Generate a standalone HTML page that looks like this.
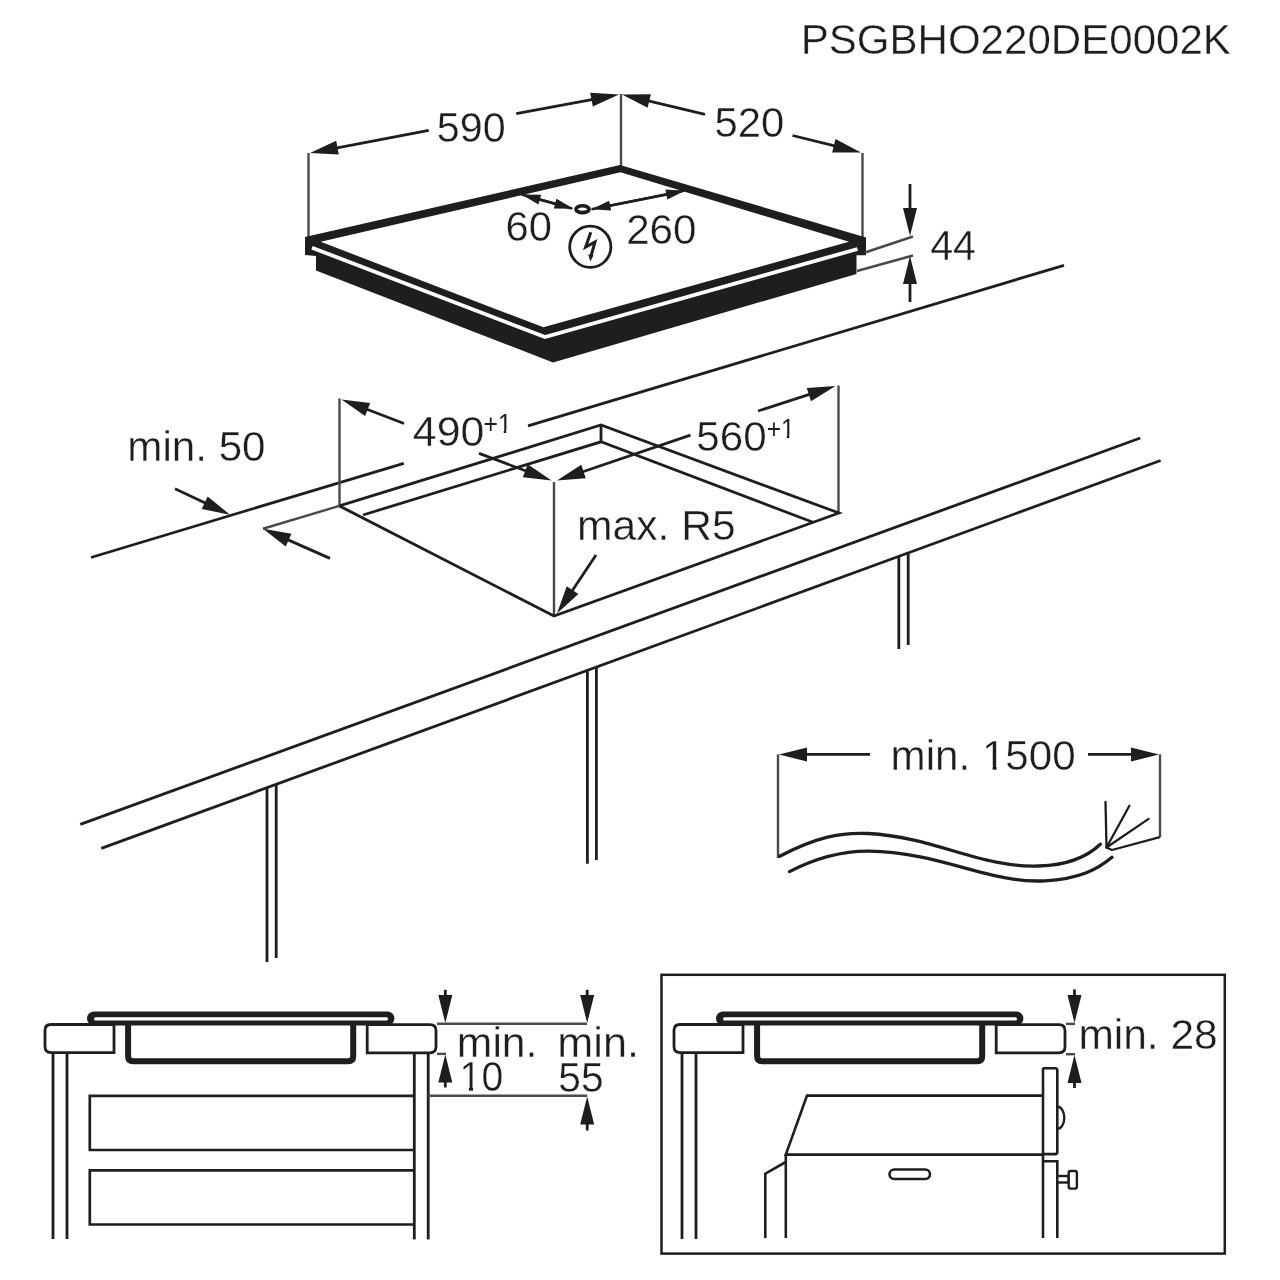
<!DOCTYPE html>
<html><head><meta charset="utf-8"><style>
html,body{margin:0;padding:0;background:#fff;}
svg{display:block;filter:blur(0.7px);}
text{font-family:"Liberation Sans",sans-serif;}
</style></head><body>
<svg width="1280" height="1280" viewBox="0 0 1280 1280">
<rect width="1280" height="1280" fill="#fff"/>
<text x="800.65" y="54.45" font-size="42.50" textLength="430.24" lengthAdjust="spacingAndGlyphs" fill="#1e1e1e" stroke="#fff" stroke-width="0.35">PSGBHO220DE0002K</text>
<line x1="308.5" y1="153" x2="308.5" y2="238" stroke="#4a4a4a" stroke-width="2.4" stroke-linecap="butt"/>
<line x1="621" y1="94" x2="621" y2="168" stroke="#4a4a4a" stroke-width="2.4" stroke-linecap="butt"/>
<line x1="862.5" y1="153" x2="862.5" y2="238" stroke="#4a4a4a" stroke-width="2.4" stroke-linecap="butt"/>
<polygon points="310,153 336.19,140.87 338.82,154.62" fill="#1e1e1e"/>
<line x1="428.75" y1="130.3" x2="334.56" y2="148.31" stroke="#1e1e1e" stroke-width="2.8" stroke-linecap="butt"/>
<polygon points="619,94.5 592.76,106.52 590.19,92.76" fill="#1e1e1e"/>
<line x1="516.25" y1="113.7" x2="594.43" y2="99.09" stroke="#1e1e1e" stroke-width="2.8" stroke-linecap="butt"/>
<text x="436.80" y="141.95" font-size="42.50" textLength="68.79" lengthAdjust="spacingAndGlyphs" fill="#1e1e1e" stroke="#fff" stroke-width="0.35">590</text>
<polygon points="622,94.5 650.86,94.19 647.61,107.81" fill="#1e1e1e"/>
<line x1="705" y1="114.3" x2="646.32" y2="100.3" stroke="#1e1e1e" stroke-width="2.8" stroke-linecap="butt"/>
<polygon points="861,152.5 832.14,152.55 835.51,138.96" fill="#1e1e1e"/>
<line x1="792.5" y1="135.5" x2="836.74" y2="146.48" stroke="#1e1e1e" stroke-width="2.8" stroke-linecap="butt"/>
<text x="714.50" y="136.85" font-size="42.50" textLength="69.84" lengthAdjust="spacingAndGlyphs" fill="#1e1e1e" stroke="#fff" stroke-width="0.35">520</text>
<polygon points="305,237 620,165 866,237.5 866,255.3 856.5,255.3 856.5,274 553,362.5 316,270.5 316,256 305,255" fill="#1e1e1e"/>
<polygon points="320.7,241.8 620.5,172.2 849,241.7 543.4,327.3" fill="#fff"/>
<polyline points="312,247.7 545,337 857.5,249" fill="none" stroke="#fff" stroke-width="3.8" stroke-linejoin="miter" stroke-linecap="butt"/>
<polygon points="521.5,194.5 541.15,194.76 538.47,204.39" fill="#1e1e1e"/>
<line x1="572" y1="208.5" x2="536.92" y2="198.77" stroke="#1e1e1e" stroke-width="2.5" stroke-linecap="butt"/>
<polygon points="573.5,208.7 553.85,208.52 556.49,198.87" fill="#1e1e1e"/>
<line x1="521.5" y1="194.5" x2="558.07" y2="204.49" stroke="#1e1e1e" stroke-width="2.5" stroke-linecap="butt"/>
<polygon points="591.5,209.3 609.15,200.67 611.11,210.48" fill="#1e1e1e"/>
<line x1="684" y1="190.8" x2="607.19" y2="206.16" stroke="#1e1e1e" stroke-width="2.5" stroke-linecap="butt"/>
<polygon points="685,190.8 667.33,199.39 665.39,189.58" fill="#1e1e1e"/>
<line x1="591.5" y1="209.3" x2="669.3" y2="193.91" stroke="#1e1e1e" stroke-width="2.5" stroke-linecap="butt"/>
<ellipse cx="582.5" cy="209.2" rx="6.6" ry="3.4" fill="#fff" stroke="#1e1e1e" stroke-width="3.6"/>
<text x="505.45" y="241.25" font-size="42.50" textLength="46.40" lengthAdjust="spacingAndGlyphs" fill="#1e1e1e" stroke="#fff" stroke-width="0.35">60</text>
<text x="626.15" y="244.00" font-size="42.50" textLength="70.38" lengthAdjust="spacingAndGlyphs" fill="#1e1e1e" stroke="#fff" stroke-width="0.35">260</text>
<circle cx="590.3" cy="246.8" r="20.6" fill="none" stroke="#1e1e1e" stroke-width="2.8"/>
<path d="M590.8,232.2 L585.6,247 L595,242 L591.3,255" fill="none" stroke="#1e1e1e" stroke-width="3" stroke-linejoin="miter" stroke-miterlimit="3"/>
<polygon points="588.2,254.2 593.6,255.3 590.3,261.6" fill="#1e1e1e"/>
<line x1="865" y1="252.5" x2="913" y2="236.5" stroke="#4a4a4a" stroke-width="2.4" stroke-linecap="butt"/>
<line x1="857" y1="271" x2="913" y2="255.5" stroke="#4a4a4a" stroke-width="2.4" stroke-linecap="butt"/>
<polygon points="910,236 903,208 917,208" fill="#1e1e1e"/>
<line x1="910" y1="184" x2="910" y2="211" stroke="#1e1e1e" stroke-width="2.8" stroke-linecap="butt"/>
<polygon points="910,256 917,284 903,284" fill="#1e1e1e"/>
<line x1="910" y1="302" x2="910" y2="281" stroke="#1e1e1e" stroke-width="2.8" stroke-linecap="butt"/>
<text x="930.20" y="259.70" font-size="42.50" textLength="45.88" lengthAdjust="spacingAndGlyphs" fill="#1e1e1e" stroke="#fff" stroke-width="0.35">44</text>
<line x1="91" y1="557.5" x2="403.8" y2="463.3" stroke="#1e1e1e" stroke-width="2.8" stroke-linecap="butt"/>
<line x1="528" y1="425.8" x2="1064" y2="265.3" stroke="#1e1e1e" stroke-width="2.8" stroke-linecap="butt"/>
<line x1="80.3" y1="824.4" x2="1140.3" y2="438" stroke="#1e1e1e" stroke-width="2.8" stroke-linecap="butt"/>
<line x1="101.3" y1="848.4" x2="1160.6" y2="460.5" stroke="#1e1e1e" stroke-width="2.8" stroke-linecap="butt"/>
<line x1="267" y1="787.72" x2="267" y2="962" stroke="#1e1e1e" stroke-width="2.8" stroke-linecap="butt"/>
<line x1="276.2" y1="784.35" x2="276.2" y2="958" stroke="#1e1e1e" stroke-width="2.8" stroke-linecap="butt"/>
<line x1="587.4" y1="670.39" x2="587.4" y2="863.7" stroke="#1e1e1e" stroke-width="2.8" stroke-linecap="butt"/>
<line x1="596.4" y1="667.09" x2="596.4" y2="860" stroke="#1e1e1e" stroke-width="2.8" stroke-linecap="butt"/>
<line x1="898.8" y1="556.36" x2="898.8" y2="649" stroke="#1e1e1e" stroke-width="2.8" stroke-linecap="butt"/>
<line x1="908.2" y1="552.91" x2="908.2" y2="645" stroke="#1e1e1e" stroke-width="2.8" stroke-linecap="butt"/>
<line x1="339.5" y1="398.5" x2="339.5" y2="506" stroke="#4a4a4a" stroke-width="2.4" stroke-linecap="butt"/>
<line x1="838.5" y1="385.5" x2="838.5" y2="513" stroke="#4a4a4a" stroke-width="2.4" stroke-linecap="butt"/>
<line x1="554" y1="482" x2="554" y2="616" stroke="#4a4a4a" stroke-width="2.4" stroke-linecap="butt"/>
<line x1="601" y1="425" x2="601" y2="442" stroke="#1e1e1e" stroke-width="2.8" stroke-linecap="butt"/>
<polyline points="339.4,505.9 601,425 838.9,513 554,616 339.4,505.9" fill="none" stroke="#1e1e1e" stroke-width="2.8" stroke-linejoin="miter" stroke-linecap="butt"/>
<polyline points="363,515 601,441.8 813,522.3" fill="none" stroke="#1e1e1e" stroke-width="2.8" stroke-linejoin="miter" stroke-linecap="butt"/>
<line x1="263" y1="528.75" x2="339.4" y2="505.9" stroke="#4a4a4a" stroke-width="2.4" stroke-linecap="butt"/>
<polygon points="341.5,399.5 370.15,403 365.13,416.07" fill="#1e1e1e"/>
<line x1="404" y1="423.5" x2="364.84" y2="408.46" stroke="#1e1e1e" stroke-width="2.8" stroke-linecap="butt"/>
<polygon points="551.5,480.5 522.82,477.25 527.72,464.14" fill="#1e1e1e"/>
<line x1="479" y1="453.4" x2="528.08" y2="471.75" stroke="#1e1e1e" stroke-width="2.8" stroke-linecap="butt"/>
<text x="412.85" y="446.45" font-size="42.50" textLength="71.39" lengthAdjust="spacingAndGlyphs" fill="#1e1e1e" stroke="#fff" stroke-width="0.35">490</text>
<text x="483.50" y="432.80" font-size="28.40" textLength="28.19" lengthAdjust="spacingAndGlyphs" fill="#1e1e1e">+1</text>
<polygon points="835.5,386 811,401.26 806.7,387.93" fill="#1e1e1e"/>
<line x1="758" y1="411" x2="811.71" y2="393.68" stroke="#1e1e1e" stroke-width="2.8" stroke-linecap="butt"/>
<polygon points="557,480.5 581.27,464.87 585.76,478.13" fill="#1e1e1e"/>
<line x1="690.5" y1="435.2" x2="580.67" y2="472.47" stroke="#1e1e1e" stroke-width="2.8" stroke-linecap="butt"/>
<text x="696.35" y="451.20" font-size="42.50" textLength="70.37" lengthAdjust="spacingAndGlyphs" fill="#1e1e1e" stroke="#fff" stroke-width="0.35">560</text>
<text x="766.70" y="437.80" font-size="28.40" textLength="28.09" lengthAdjust="spacingAndGlyphs" fill="#1e1e1e">+1</text>
<text x="127.30" y="461.35" font-size="42.50" textLength="138.28" lengthAdjust="spacingAndGlyphs" fill="#1e1e1e" stroke="#fff" stroke-width="0.35">min. 50</text>
<polygon points="230,514.7 201.69,509.08 207.66,496.42" fill="#1e1e1e"/>
<line x1="175" y1="488.75" x2="207.39" y2="504.03" stroke="#1e1e1e" stroke-width="2.8" stroke-linecap="butt"/>
<polygon points="263,528.75 291.44,533.68 285.77,546.48" fill="#1e1e1e"/>
<line x1="330" y1="558.4" x2="285.86" y2="538.87" stroke="#1e1e1e" stroke-width="2.8" stroke-linecap="butt"/>
<text x="577.10" y="540.25" font-size="42.50" textLength="158.63" lengthAdjust="spacingAndGlyphs" fill="#1e1e1e" stroke="#fff" stroke-width="0.35">max. R5</text>
<polygon points="557,613.5 566.71,586.32 578.36,594.09" fill="#1e1e1e"/>
<line x1="596" y1="555" x2="570.87" y2="592.7" stroke="#1e1e1e" stroke-width="2.8" stroke-linecap="butt"/>
<line x1="778" y1="754.4" x2="778" y2="858" stroke="#4a4a4a" stroke-width="2.4" stroke-linecap="butt"/>
<line x1="1160" y1="754.4" x2="1160" y2="837.5" stroke="#4a4a4a" stroke-width="2.4" stroke-linecap="butt"/>
<polygon points="779,754.4 807,747.4 807,761.4" fill="#1e1e1e"/>
<line x1="870" y1="754.4" x2="804" y2="754.4" stroke="#1e1e1e" stroke-width="2.8" stroke-linecap="butt"/>
<polygon points="1159,754.4 1131,761.4 1131,747.4" fill="#1e1e1e"/>
<line x1="1088" y1="754.4" x2="1134" y2="754.4" stroke="#1e1e1e" stroke-width="2.8" stroke-linecap="butt"/>
<text x="890.60" y="769.85" font-size="42.50" textLength="185.12" lengthAdjust="spacingAndGlyphs" fill="#1e1e1e" stroke="#fff" stroke-width="0.35">min. 1500</text>
<path d="M779.7,856.2 C815,838 840,832 868,833.5 C935,837 980,868 1039,866 C1070,865 1088,856 1100.3,844.2" fill="none" stroke="#1e1e1e" stroke-width="3.3" stroke-linecap="round"/>
<path d="M789.5,871.6 C820,856 845,851 869,851.2 C940,852 990,884 1045,880.8 C1080,879 1098,869 1112,857.3" fill="none" stroke="#1e1e1e" stroke-width="3.3" stroke-linecap="round"/>
<polyline points="1105.5,802 1106.5,847.5 1129.4,805.8" fill="none" stroke="#1e1e1e" stroke-width="2.3" stroke-linejoin="round" stroke-linecap="round"/>
<polyline points="1106.5,847.5 1148.6,818.9" fill="none" stroke="#1e1e1e" stroke-width="2.3" stroke-linejoin="miter" stroke-linecap="round"/>
<polyline points="1106.5,847.5 1112,850 1159.8,837.2" fill="none" stroke="#1e1e1e" stroke-width="2.3" stroke-linejoin="round" stroke-linecap="butt"/>
<rect x="87" y="1011.5" width="307.4" height="14" rx="7" fill="#1e1e1e"/>
<rect x="94" y="1017.3" width="294" height="3.2" rx="1.6" fill="#fff"/>
<path d="M128.1,1024 L128.1,1056.2 Q128.1,1061.2 133.1,1061.2 L348.2,1061.2 Q353.2,1061.2 353.2,1056.2 L353.2,1024" fill="none" stroke="#1e1e1e" stroke-width="6"/>
<path d="M114,1024.5 L51,1024.5 Q45,1024.5 45,1030.5 L45,1046.6 Q45,1052.6 51,1052.6 L114,1052.6 Z" fill="#fff" stroke="#1e1e1e" stroke-width="2.8"/>
<path d="M367.2,1024.7 L430,1024.7 Q436,1024.7 436,1030.7 L436,1046.8 Q436,1052.8 430,1052.8 L367.2,1052.8 Z" fill="#fff" stroke="#1e1e1e" stroke-width="2.8"/>
<line x1="53" y1="1054" x2="53" y2="1239" stroke="#1e1e1e" stroke-width="2.8" stroke-linecap="butt"/>
<line x1="67" y1="1054" x2="67" y2="1239" stroke="#1e1e1e" stroke-width="2.8" stroke-linecap="butt"/>
<line x1="414.3" y1="1054" x2="414.3" y2="1239.4" stroke="#1e1e1e" stroke-width="2.8" stroke-linecap="butt"/>
<line x1="428.2" y1="1054" x2="428.2" y2="1239.4" stroke="#1e1e1e" stroke-width="2.8" stroke-linecap="butt"/>
<polyline points="414.3,1095.8 89.8,1095.8 89.8,1150 414.3,1150" fill="none" stroke="#1e1e1e" stroke-width="2.7" stroke-linejoin="miter" stroke-linecap="butt"/>
<polyline points="414.3,1170.4 89.8,1170.4 89.8,1224.5 414.3,1224.5" fill="none" stroke="#1e1e1e" stroke-width="2.7" stroke-linejoin="miter" stroke-linecap="butt"/>
<line x1="437" y1="1023.75" x2="587" y2="1023.75" stroke="#4a4a4a" stroke-width="2.4" stroke-linecap="butt"/>
<line x1="428" y1="1095.8" x2="587.2" y2="1095.8" stroke="#4a4a4a" stroke-width="2.4" stroke-linecap="butt"/>
<line x1="437" y1="1053.9" x2="446" y2="1053.9" stroke="#4a4a4a" stroke-width="2.4" stroke-linecap="butt"/>
<polygon points="445.3,1023 438.3,995 452.3,995" fill="#1e1e1e"/>
<line x1="445.3" y1="989.8" x2="445.3" y2="998" stroke="#1e1e1e" stroke-width="2.8" stroke-linecap="butt"/>
<polygon points="445.3,1054.5 452.3,1082.5 438.3,1082.5" fill="#1e1e1e"/>
<line x1="445.3" y1="1087.5" x2="445.3" y2="1079.5" stroke="#1e1e1e" stroke-width="2.8" stroke-linecap="butt"/>
<polygon points="587.2,1023 580.2,995 594.2,995" fill="#1e1e1e"/>
<line x1="587.2" y1="989.8" x2="587.2" y2="998" stroke="#1e1e1e" stroke-width="2.8" stroke-linecap="butt"/>
<polygon points="587.2,1096.5 594.2,1124.5 580.2,1124.5" fill="#1e1e1e"/>
<line x1="587.2" y1="1130.5" x2="587.2" y2="1121.5" stroke="#1e1e1e" stroke-width="2.8" stroke-linecap="butt"/>
<text x="456.85" y="1057.40" font-size="42.50" textLength="80.59" lengthAdjust="spacingAndGlyphs" fill="#1e1e1e" stroke="#fff" stroke-width="0.35">min.</text>
<text x="459.60" y="1091.25" font-size="42.50" textLength="43.63" lengthAdjust="spacingAndGlyphs" fill="#1e1e1e" stroke="#fff" stroke-width="0.35">10</text>
<text x="557.35" y="1057.40" font-size="42.50" textLength="81.67" lengthAdjust="spacingAndGlyphs" fill="#1e1e1e" stroke="#fff" stroke-width="0.35">min.</text>
<text x="558.35" y="1092.45" font-size="42.50" textLength="45.35" lengthAdjust="spacingAndGlyphs" fill="#1e1e1e" stroke="#fff" stroke-width="0.35">55</text>
<rect x="661.5" y="974.8" width="563.3" height="278.8" fill="none" stroke="#1e1e1e" stroke-width="2.5"/>
<rect x="716" y="1011.5" width="307.4" height="14" rx="7" fill="#1e1e1e"/>
<rect x="723" y="1017.3" width="294" height="3.2" rx="1.6" fill="#fff"/>
<path d="M757.1,1024 L757.1,1056.2 Q757.1,1061.2 762.1,1061.2 L977.2,1061.2 Q982.2,1061.2 982.2,1056.2 L982.2,1024" fill="none" stroke="#1e1e1e" stroke-width="6"/>
<path d="M743,1024.5 L680,1024.5 Q674,1024.5 674,1030.5 L674,1046.6 Q674,1052.6 680,1052.6 L743,1052.6 Z" fill="#fff" stroke="#1e1e1e" stroke-width="2.8"/>
<path d="M996.2,1024.7 L1059,1024.7 Q1065,1024.7 1065,1030.7 L1065,1046.8 Q1065,1052.8 1059,1052.8 L996.2,1052.8 Z" fill="#fff" stroke="#1e1e1e" stroke-width="2.8"/>
<line x1="682" y1="1054" x2="682" y2="1239" stroke="#1e1e1e" stroke-width="2.8" stroke-linecap="butt"/>
<line x1="696" y1="1054" x2="696" y2="1239" stroke="#1e1e1e" stroke-width="2.8" stroke-linecap="butt"/>
<polyline points="1042.3,1095.6 807,1095.6 785.8,1154.6 1042.3,1154.6" fill="none" stroke="#1e1e1e" stroke-width="2.6" stroke-linejoin="miter" stroke-linecap="butt"/>
<line x1="785.8" y1="1154" x2="785.8" y2="1238" stroke="#1e1e1e" stroke-width="2.6" stroke-linecap="butt"/>
<polyline points="765.3,1238 765.3,1173.7 785.8,1162" fill="none" stroke="#1e1e1e" stroke-width="2.6" stroke-linejoin="miter" stroke-linecap="butt"/>
<line x1="1043" y1="1068" x2="1043" y2="1238" stroke="#1e1e1e" stroke-width="2.6" stroke-linecap="butt"/>
<path d="M1043,1068.3 L1055.2,1068.3 Q1057.3,1068.3 1057.3,1070.4 L1057.3,1152 Q1057.3,1154.1 1055.2,1154.1 L1043,1154.1" fill="none" stroke="#1e1e1e" stroke-width="2.6"/>
<polyline points="1043,1161.2 1057.3,1161.2 1057.3,1238" fill="none" stroke="#1e1e1e" stroke-width="2.6" stroke-linejoin="miter" stroke-linecap="butt"/>
<path d="M1057.3,1106.5 A7,11.25 0 0 1 1057.3,1129" fill="none" stroke="#1e1e1e" stroke-width="2.4"/>
<rect x="1057.3" y="1176" width="11.4" height="6.5" fill="#fff" stroke="#1e1e1e" stroke-width="2.4"/>
<rect x="1068.7" y="1171" width="8.2" height="17.6" rx="2" fill="#fff" stroke="#1e1e1e" stroke-width="2.4"/>
<rect x="889.5" y="1169.5" width="40.5" height="9.5" rx="4.75" fill="none" stroke="#1e1e1e" stroke-width="2.6"/>
<line x1="1066" y1="1023.9" x2="1075" y2="1023.9" stroke="#4a4a4a" stroke-width="2.4" stroke-linecap="butt"/>
<line x1="1066" y1="1054.2" x2="1075" y2="1054.2" stroke="#4a4a4a" stroke-width="2.4" stroke-linecap="butt"/>
<polygon points="1074.5,1023 1067.5,995 1081.5,995" fill="#1e1e1e"/>
<line x1="1074.5" y1="989.4" x2="1074.5" y2="998" stroke="#1e1e1e" stroke-width="2.8" stroke-linecap="butt"/>
<polygon points="1074.5,1055 1081.5,1083 1067.5,1083" fill="#1e1e1e"/>
<line x1="1074.5" y1="1088" x2="1074.5" y2="1080" stroke="#1e1e1e" stroke-width="2.8" stroke-linecap="butt"/>
<text x="1078.40" y="1048.60" font-size="42.50" textLength="139.35" lengthAdjust="spacingAndGlyphs" fill="#1e1e1e" stroke="#fff" stroke-width="0.35">min. 28</text>
<rect x="461.5" y="1086.8" width="7.4" height="4.6" fill="#fff"/>
<rect x="473.1" y="1086.8" width="7.8" height="4.6" fill="#fff"/>
<rect x="984.0" y="765.7" width="8.6" height="4.6" fill="#fff"/>
<rect x="996.6" y="765.7" width="7.8" height="4.6" fill="#fff"/>
<rect x="499.0" y="430.0" width="4.7" height="3.3" fill="#fff"/>
<rect x="506.3" y="430.0" width="5.8" height="3.3" fill="#fff"/>
<rect x="782.0" y="435.0" width="4.7" height="3.3" fill="#fff"/>
<rect x="789.3" y="435.0" width="5.8" height="3.3" fill="#fff"/>
</svg>
</body></html>
